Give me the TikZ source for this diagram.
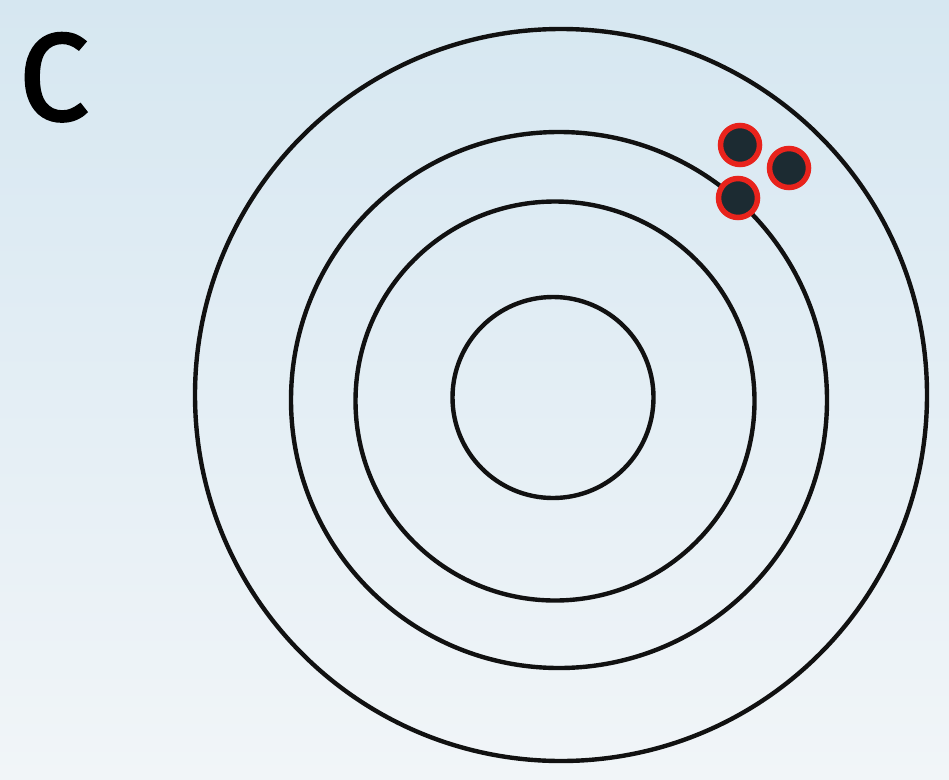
\documentclass[tikz,border=0pt]{standalone}
\usepackage{fontspec}
\newfontfamily\labelfont[FakeBold=2.2]{Fira Sans}
\definecolor{bgtop}{HTML}{D6E7F1}
\definecolor{bgbot}{HTML}{F1F5F8}
\definecolor{shellcol}{HTML}{111111}
\definecolor{ecore}{HTML}{1C2B32}
\definecolor{ering}{HTML}{E8231C}
\tikzset{
  shell/.style={draw=shellcol, line width=4.4pt},
  electron/.style={circle, fill=ecore, draw=ering, line width=5.5pt, minimum size=39pt, inner sep=0pt},
}
\begin{document}
\begin{tikzpicture}[x=1pt,y=-1pt]
\useasboundingbox (0,0) rectangle (949,779);
\shade[top color=bgtop, bottom color=bgbot] (0,0) rectangle (949,779);
\node[anchor=base west, inner sep=0pt, font=\labelfont\fontsize{124}{124}\selectfont] (lbl) at (19,120) {C};
\draw[shell] (561,395) circle (366);
\draw[shell] (559,400) circle (268);
\draw[shell] (555,401) circle (199.5);
\draw[shell] (553,397.5) circle (100.5);
\node[electron] (e1) at (740,145) {};
\node[electron] (e2) at (789,168) {};
\node[electron] (e3) at (738,198) {};
\end{tikzpicture}
\end{document}
